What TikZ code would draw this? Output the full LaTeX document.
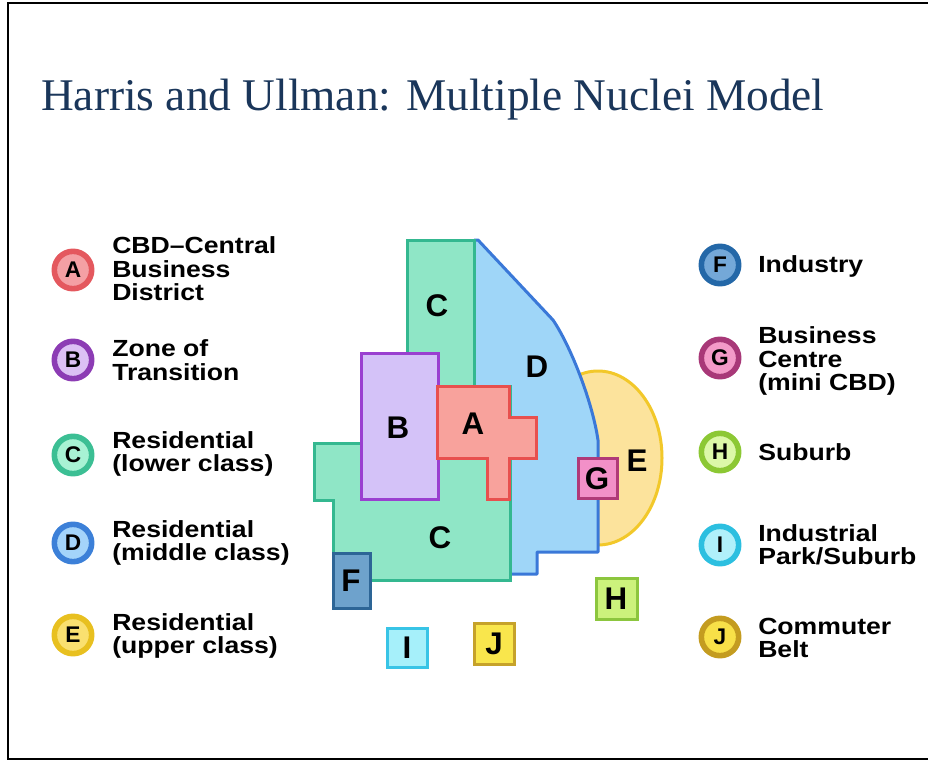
\documentclass[tikz,border=0pt]{standalone}
\usepackage{fontspec}
\setmainfont{Liberation Serif}
\newfontfamily\lgd[FakeStretch=1.14]{Liberation Sans}
\newfontfamily\mapf{Liberation Sans}

% zone colours (fill / outline)
\definecolor{Cfill}{HTML}{8FE6C6}\definecolor{Cline}{HTML}{34B890}
\definecolor{Dfill}{HTML}{9FD6F8}\definecolor{Dline}{HTML}{3A78D8}
\definecolor{Bfill}{HTML}{D4C2F8}\definecolor{Bline}{HTML}{9A40D0}
\definecolor{Afill}{HTML}{F8A29C}\definecolor{Aline}{HTML}{E8504E}
\definecolor{Efill}{HTML}{FCE39C}\definecolor{Eline}{HTML}{F2C82A}
\definecolor{Gfill}{HTML}{F290C8}\definecolor{Gline}{HTML}{B03A78}
\definecolor{Ffill}{HTML}{6EA2CC}\definecolor{Fline}{HTML}{2D6596}
\definecolor{Hfill}{HTML}{CCF27C}\definecolor{Hline}{HTML}{8CC63E}
\definecolor{Ifill}{HTML}{A6F0FA}\definecolor{Iline}{HTML}{38C4E6}
\definecolor{Jfill}{HTML}{F9E64C}\definecolor{Jline}{HTML}{C6A22A}
% key circle colours (inner / ring)
\definecolor{kAin}{HTML}{F4A0A4}\definecolor{kAring}{HTML}{E4585E}
\definecolor{kBin}{HTML}{DCC0F4}\definecolor{kBring}{HTML}{8C3CB4}
\definecolor{kCin}{HTML}{A8F2D4}\definecolor{kCring}{HTML}{3CBF94}
\definecolor{kDin}{HTML}{A4D4FA}\definecolor{kDring}{HTML}{3C80D8}
\definecolor{kEin}{HTML}{FAE070}\definecolor{kEring}{HTML}{E8C020}
\definecolor{kFin}{HTML}{74A8D8}\definecolor{kFring}{HTML}{2468A8}
\definecolor{kGin}{HTML}{F39AC8}\definecolor{kGring}{HTML}{A83878}
\definecolor{kHin}{HTML}{DCF8A8}\definecolor{kHring}{HTML}{8CC834}
\definecolor{kIin}{HTML}{B0F0FA}\definecolor{kIring}{HTML}{2CBFE0}
\definecolor{kJin}{HTML}{F8E048}\definecolor{kJring}{HTML}{C49C20}
\definecolor{titleblue}{HTML}{1A365A}

\tikzset{
  zone/.style 2 args={fill=#1, draw=#2, line width=2.25pt, line join=miter},
  maplbl/.style={inner sep=0, font=\mapf\bfseries\fontsize{23.5}{23.5}\selectfont},
  keycirc/.style 2 args={circle, fill=#1, draw=#2, line width=4.2pt,
    minimum size=28pt, inner sep=0, font=\mapf\bfseries\fontsize{17}{17}\selectfont},
  keytext/.style={anchor=west, align=left, inner sep=0,
    font=\lgd\bfseries\fontsize{17.5}{17.6}\selectfont},
}

\begin{document}
\begin{tikzpicture}[x=0.75pt,y=-0.75pt]
\useasboundingbox (0,0) rectangle (928,763);
\fill[white] (0,0) rectangle (928,763);

% frame
\draw[line width=1.6pt] (928,3) -- (8,3) -- (8,759) -- (928,759);

% title
\node[anchor=base west, inner sep=0, text=titleblue,
      font=\fontsize{34}{34}\selectfont] (title) at (41,111)
  {Harris and Ullman: Multiple Nuclei Model};

% ---- zones of the city ----
% E: upper-class residential
\filldraw[zone={Efill}{Eline}] (598,458) ellipse [x radius=48pt, y radius=65.25pt];
% D: middle-class residential
\fill[Dfill] (474,240) -- (478,240) -- (553,320)
  .. controls (570,345) and (592,400) .. (598,440)
  -- (598,552) -- (537,552) -- (537,574) -- (510,574) -- (510,386)
  -- (474,386) -- cycle;
\draw[Dline, line width=2.25pt, line join=round] (474,240) -- (478,240) -- (553,320)
  .. controls (570,345) and (592,400) .. (598,440)
  -- (598,552) -- (537,552) -- (537,574) -- (510,574);
% C: lower-class residential
\filldraw[zone={Cfill}{Cline}] (407,240) -- (474,240) -- (474,386) -- (510,386)
  -- (510,580) -- (333,580) -- (333,500) -- (314,500) -- (314,443)
  -- (361,443) -- (361,353) -- (407,353) -- cycle;
% B: zone of transition
\filldraw[zone={Bfill}{Bline}] (361,353) rectangle (438,499);
% A: CBD
\filldraw[zone={Afill}{Aline}] (437,386) -- (509,386) -- (509,417) -- (536,417)
  -- (536,458) -- (509,458) -- (509,499) -- (487,499) -- (487,458)
  -- (437,458) -- cycle;
% small nuclei
\filldraw[zone={Gfill}{Gline}] (578,458) rectangle (617,498);
\filldraw[zone={Ffill}{Fline}] (333,553) rectangle (370,608);
\filldraw[zone={Hfill}{Hline}] (596,578) rectangle (637,619);
\filldraw[zone={Ifill}{Iline}] (387,628) rectangle (427,667);
\filldraw[zone={Jfill}{Jline}] (474,623) rectangle (514,664);

% zone letters
\node[maplbl] (mC1) at (437,306) {C};
\node[maplbl] (mD)  at (537,367) {D};
\node[maplbl] (mB)  at (398,428) {B};
\node[maplbl] (mA)  at (473,424) {A};
\node[maplbl] (mE)  at (637,461) {E};
\node[maplbl] (mG)  at (597,479) {G};
\node[maplbl] (mC2) at (440,538) {C};
\node[maplbl] (mF)  at (351,581) {F};
\node[maplbl] (mH)  at (616,599) {H};
\node[maplbl] (mI)  at (407,648) {I};
\node[maplbl] (mJ)  at (494,644) {J};

% ---- key, left column ----
\node[keycirc={kAin}{kAring}] (kA) at (73,270) {A};
\node[keytext] (tA) at (112,269) {CBD–Central\\Business\\District};
\node[keycirc={kBin}{kBring}] (kB) at (73,360) {B};
\node[keytext] (tB) at (112,360) {Zone of\\Transition};
\node[keycirc={kCin}{kCring}] (kC) at (73,455) {C};
\node[keytext] (tC) at (112,454) {Residential\\(lower class)};
\node[keycirc={kDin}{kDring}] (kD) at (73,543) {D};
\node[keytext] (tD) at (112,543) {Residential\\(middle class)};
\node[keycirc={kEin}{kEring}] (kE) at (73,635) {E};
\node[keytext] (tE) at (112,636) {Residential\\(upper class)};

% ---- key, right column ----
\node[keycirc={kFin}{kFring}] (kF) at (720,265) {F};
\node[keytext] (tF) at (758,266) {Industry};
\node[keycirc={kGin}{kGring}] (kG) at (720,358) {G};
\node[keytext] (tG) at (758,361) {Business\\Centre\\(mini CBD)};
\node[keycirc={kHin}{kHring}] (kH) at (720,452) {H};
\node[keytext] (tH) at (758,452) {Suburb};
\node[keycirc={kIin}{kIring}] (kI) at (720,545) {I};
\node[keytext] (tI) at (758,545) {Industrial\\Park/Suburb};
\node[keycirc={kJin}{kJring}] (kJ) at (720,637) {J};
\node[keytext] (tJ) at (758,638) {Commuter\\Belt};
\end{tikzpicture}
\end{document}
